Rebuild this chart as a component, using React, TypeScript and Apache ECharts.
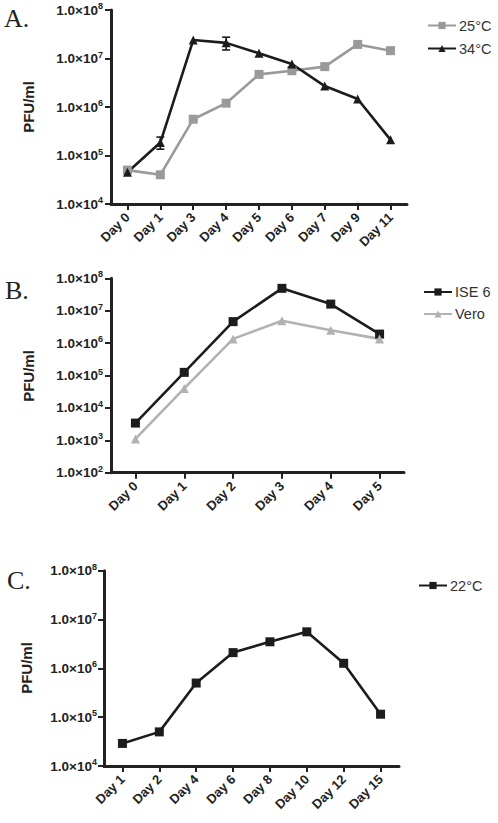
import React, { useEffect, useRef } from "react";
import * as echarts from "echarts";

// Panel A
const daysA = ["Day 0", "Day 1", "Day 3", "Day 4", "Day 5", "Day 6", "Day 7", "Day 9", "Day 11"];
const a25 = [5.0e4, 4.0e4, 5.6e5, 1.2e6, 4.7e6, 5.6e6, 6.8e6, 1.95e7, 1.45e7];
const a34 = [4.5e4, 1.85e5, 2.4e7, 2.1e7, 1.28e7, 7.7e6, 2.7e6, 1.46e6, 2.1e5];
const a34Err = [
  [1, 1.35e5, 2.4e5],
  [3, 1.5e7, 2.75e7],
];
const a25Err = [[8, 1.3e7, 1.65e7]];

// Panel B
const daysB = ["Day 0", "Day 1", "Day 2", "Day 3", "Day 4", "Day 5"];
const ise6 = [3.4e3, 1.25e5, 4.6e6, 4.9e7, 1.6e7, 1.9e6];
const vero = [1.1e3, 4.0e4, 1.35e6, 4.9e6, 2.5e6, 1.35e6];

// Panel C
const daysC = ["Day 1", "Day 2", "Day 4", "Day 6", "Day 8", "Day 10", "Day 12", "Day 15"];
const c22 = [2.9e4, 5.0e4, 5.0e5, 2.1e6, 3.5e6, 5.6e6, 1.27e6, 1.15e5];

const SANS = "'Liberation Sans', Arial, sans-serif";
const SERIF = "'Liberation Serif', 'Times New Roman', serif";
const INK = "#222222";

function yAxis(gridIndex: number, min: number, max: number, margin: number) {
  return {
    type: "log",
    logBase: 10,
    gridIndex,
    min,
    max,
    axisLine: { show: true, lineStyle: { color: INK, width: 3 } },
    axisTick: { show: true, length: 6, lineStyle: { color: INK, width: 2 } },
    minorTick: { show: false },
    splitLine: { show: false },
    axisLabel: {
      margin,
      formatter: (v: number) => `{b|1.0×10}{s|${Math.round(Math.log10(v))}}`,
      rich: {
        b: { fontFamily: SANS, fontWeight: "bold", fontSize: 13.5, color: INK },
        s: { fontFamily: SANS, fontWeight: "bold", fontSize: 9, color: INK, padding: [0, 0, 8, 0] },
      },
    },
  };
}

function xAxis(gridIndex: number, data: string[]) {
  return {
    type: "category",
    gridIndex,
    data,
    boundaryGap: true,
    axisLine: { show: true, lineStyle: { color: INK, width: 3 } },
    axisTick: { show: true, alignWithLabel: true, length: 6, lineStyle: { color: INK, width: 2 } },
    splitLine: { show: false },
    axisLabel: {
      rotate: 45,
      margin: 11,
      interval: 0,
      fontFamily: SANS,
      fontWeight: "bold",
      fontSize: 13,
      color: INK,
    },
  };
}

function lineSeries(name: string, data: number[], idx: number, color: string, symbol: string, size: number) {
  return {
    type: "line",
    name,
    data,
    xAxisIndex: idx,
    yAxisIndex: idx,
    symbol,
    symbolSize: size,
    showAllSymbol: true,
    lineStyle: { color, width: 2.6 },
    itemStyle: { color, borderWidth: 0 },
  };
}

function errSeries(data: number[][], idx: number, color: string) {
  return {
    type: "custom",
    name: "err" + idx + color,
    xAxisIndex: idx,
    yAxisIndex: idx,
    data,
    z: 3,
    encode: { x: 0, y: [1, 2] },
    renderItem: (params: any, api: any) => {
      const x = api.value(0);
      const lo = api.coord([x, api.value(1)]);
      const hi = api.coord([x, api.value(2)]);
      const w = 4;
      const style = { stroke: color, lineWidth: 1.6 };
      return {
        type: "group",
        children: [
          { type: "line", shape: { x1: hi[0], y1: hi[1], x2: lo[0], y2: lo[1] }, style },
          { type: "line", shape: { x1: hi[0] - w, y1: hi[1], x2: hi[0] + w, y2: hi[1] }, style },
          { type: "line", shape: { x1: lo[0] - w, y1: lo[1], x2: lo[0] + w, y2: lo[1] }, style },
        ],
      };
    },
  };
}

function legend(names: string[], left: number, top: number, gap: number) {
  return {
    orient: "vertical",
    left,
    top,
    padding: 0,
    itemGap: gap,
    itemWidth: 28,
    itemHeight: 9,
    data: names,
    selectedMode: false,
    textStyle: { fontFamily: SANS, fontSize: 14.5, color: "#333333", padding: [0, 0, 0, -2] },
  };
}

function panelText(text: string, x: number, y: number) {
  return {
    type: "text",
    x,
    y,
    style: { text, fontFamily: SERIF, fontSize: 26, fill: INK, align: "left", verticalAlign: "middle" },
  };
}

function yName(x: number, y: number) {
  return {
    type: "text",
    x,
    y,
    rotation: Math.PI / 2,
    style: { text: "PFU/ml", fontFamily: SANS, fontWeight: "bold", fontSize: 15, fill: INK, align: "center", verticalAlign: "middle" },
  };
}

export default function App() {
  const ref = useRef<HTMLDivElement>(null);
  useEffect(() => {
    if (!ref.current) return;
    const chart = echarts.init(ref.current, undefined, { renderer: "svg" });
    const BLACK = "#1c1c1c";
    const GRAY_A = "#9a9a9a";
    const GRAY_B = "#b2b2b2";
    chart.setOption({
      animation: false,
      backgroundColor: "#ffffff",
      grid: [
        { left: 111, top: 10, width: 296, height: 194 },
        { left: 111, top: 278.3, width: 293, height: 194.4 },
        { left: 104, top: 570.7, width: 295, height: 195.3 },
      ],
      xAxis: [xAxis(0, daysA), xAxis(1, daysB), xAxis(2, daysC)],
      yAxis: [yAxis(0, 1e4, 1e8, 8), yAxis(1, 1e2, 1e8, 8), yAxis(2, 1e4, 1e8, 7)],
      legend: [
        legend(["25°C", "34°C"], 427, 18, 8),
        legend(["ISE 6", "Vero"], 423, 284.5, 7),
        legend(["22°C"], 418, 578, 8),
      ],
      graphic: [
        panelText("A.", 4, 18),
        panelText("B.", 5, 290),
        panelText("C.", 7, 580),
        yName(28, 107),
        yName(28, 376),
        yName(26, 668),
      ],
      series: [
        errSeries(a25Err, 0, GRAY_A),
        lineSeries("25°C", a25, 0, GRAY_A, "rect", 9),
        errSeries(a34Err, 0, BLACK),
        lineSeries("34°C", a34, 0, BLACK, "triangle", 9),
        lineSeries("ISE 6", ise6, 1, BLACK, "rect", 9),
        lineSeries("Vero", vero, 1, GRAY_B, "triangle", 9),
        lineSeries("22°C", c22, 2, BLACK, "rect", 9),
      ],
    });
    return () => chart.dispose();
  }, []);
  return <div ref={ref} style={{ position: "absolute", left: 0, top: 0, width: 498, height: 823 }} />;
}
